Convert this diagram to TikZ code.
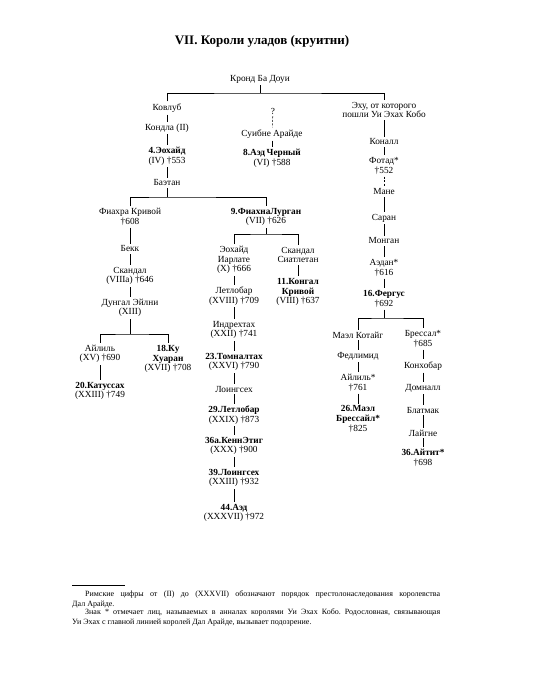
\documentclass[tikz,border=0pt]{standalone}
\usepackage{fontspec}
\setmainfont{Liberation Serif}
\usetikzlibrary{positioning}

\begin{document}
\begin{tikzpicture}[
  x=1pt, y=-1pt,
  font=\fontsize{9.3}{9.6}\selectfont,
  person/.style={align=center, inner sep=2pt},
  link/.style={line width=0.55pt},
  doubt/.style={link, dash pattern=on 2pt off 1.5pt},
  note/.style={anchor=north west, inner sep=0pt, text width=368pt, align=justify,
    font=\fontsize{8}{10}\selectfont\frenchspacing}
]
\path[use as bounding box] (0,0) rectangle (533,700);

\node[font=\fontsize{13}{15}\selectfont\bfseries] (title) at (262,41) {VII. Короли уладов (круитни)};

\node[person] (kronds) at (260,79) {Кронд Ба Доуи};
\coordinate (jtop) at (260,93);

% left line
\node[person] (kovlub)   at (167,108) {Ковлуб};
\node[person] (kondla)   at (167,128) {Кондла (II)};
\node[person] (eochaid4) at (167,156) {\textbf{4.Эохайд}\\(IV) †553};
\node[person] (baetan)   at (167,183) {Баэтан};
\coordinate (j1) at (167,197);

\node[person] (fiachra)  at (130,217) {Фиахра Кривой\\†608};
\node[person] (bekk)     at (130,249) {Бекк};
\node[person] (skandal)  at (130,276) {Скандал\\(VIIIa) †646};
\node[person] (dungal)   at (130,308) {Дунгал Эйлни\\(XIII)};
\coordinate (j2) at (130,334);
\node[person] (ailill)   at (100,354) {Айлиль\\(XV) †690};
\node[person] (ku18)     at (168,359) {\textbf{18.Ку}\\\textbf{Хуаран}\\(XVII) †708};
\node[person] (katussah) at (100,391) {\textbf{20.Катуссах}\\(XXIII) †749};

\node[person] (fiachna9) at (266,217) {\textbf{9.ФиахнаЛурган}\\(VII) †626};
\coordinate (j3) at (266,234);
\node[person] (eochaidI) at (234,260) {Эохайд\\Иарлате\\(X) †666};
\node[person] (skandalS) at (298,255) {Скандал\\Сиатлетан};
\node[person] (kongal11) at (298,292) {\textbf{11.Конгал}\\\textbf{Кривой}\\(VIII) †637};
\node[person] (letlobar) at (234,296) {Летлобар\\(XVIII) †709};
\node[person] (indreht)  at (234,330) {Индрехтах\\(XXII) †741};
\node[person] (tomn23)   at (234,362) {\textbf{23.Томналтах}\\(XXVI) †790};
\node[person] (loingseh) at (234,389) {Лоингсех};
\node[person] (letl29)   at (234,415) {\textbf{29.Летлобар}\\(XXIX) †873};
\node[person] (kenn36)   at (234,446) {\textbf{36а.КеннЭтиг}\\(XXX) †900};
\node[person] (loing39)  at (234,478) {\textbf{39.Лоингсех}\\(XXIII) †932};
\node[person] (aed44)    at (234,513) {\textbf{44.Аэд}\\(XXXVII) †972};

% middle line
\node[person] (q)      at (273,111) {?};
\node[person] (suibne) at (272,134) {Суибне Арайде};
\node[person] (aed8)   at (272,158) {\textbf{8.Аэд\,Черный}\\(VI) †588};

% Ui Echach Cobo
\node[person] (ehu)      at (384,110) {Эху, от которого\\пошли Уи Эхах Кобо};
\node[person] (konall)   at (384,142) {Коналл};
\node[person] (fotad)    at (384,166) {Фотад*\\†552};
\node[person] (mane)     at (384,192) {Мане};
\node[person] (saran)    at (384,218) {Саран};
\node[person] (mongan)   at (384,241) {Монган};
\node[person] (aedan)    at (384,268) {Аэдан*\\†616};
\node[person] (fergus16) at (384,299) {\textbf{16.Фергус}\\†692};
\coordinate (j4) at (384,318);
\node[person] (mael)     at (358,335) {Маэл Котайг};
\node[person] (fedlimid) at (358,356) {Федлимид};
\node[person] (ailill2)  at (358,383) {Айлиль*\\†761};
\node[person] (mael26)   at (358,419) {\textbf{26.Маэл}\\\textbf{Брессайл*}\\†825};
\node[person] (bressal)  at (423,339) {Брессал*\\†685};
\node[person] (konhobar) at (423,366) {Конхобар};
\node[person] (domnall)  at (423,388) {Домналл};
\node[person] (blatmak)  at (423,410) {Блатмак};
\node[person] (laigne)   at (423,433) {Лайгне};
\node[person] (aitit36)  at (423,458) {\textbf{36.Айтит*}\\†698};

\draw[link] (kronds) -- (jtop);
\draw[link] (kovlub) |- (jtop) -| (ehu);
\draw[link] (kovlub) -- (kondla) -- (eochaid4) -- (baetan) -- (j1);
\draw[link] (fiachra) |- (j1) -| (fiachna9);
\draw[link] (fiachra) -- (bekk) -- (skandal) -- (dungal) -- (j2);
\draw[link] (ailill) |- (j2) -| (ku18);
\draw[link] (ailill) -- (katussah);
\draw[link] (fiachna9) -- (j3);
\draw[link] (eochaidI) |- (j3) -| (skandalS);
\draw[link] (skandalS) -- (kongal11);
\draw[link] (eochaidI) -- (letlobar) -- (indreht) -- (tomn23) -- (loingseh)
  -- (letl29) -- (kenn36) -- (loing39) -- (aed44);
\draw[doubt] (q) -- (suibne);
\draw[link] (suibne) -- (aed8);
\draw[link] (ehu) -- (konall) -- (fotad);
\draw[doubt] (fotad) -- (mane);
\draw[link] (mane) -- (saran) -- (mongan) -- (aedan) -- (fergus16) -- (j4);
\draw[link] (mael) |- (j4) -| (bressal);
\draw[link] (mael) -- (fedlimid) -- (ailill2) -- (mael26);
\draw[link] (bressal) -- (konhobar) -- (domnall) -- (blatmak) -- (laigne) -- (aitit36);

% footnote
\coordinate (rulel) at (72,585);
\coordinate (ruler) at (125,585);
\draw[line width=0.4pt] (rulel) -- (ruler);
\node[note] (note1) at (72,591) {\hspace*{13pt}Римские цифры от (II) до (XXXVII) обозначают порядок престолонаследования королевства\linebreak Дал Арайде.};
\node[note, below=0pt of note1.south west, anchor=north west] (note2) {\hspace*{13pt}Знак * отмечает лиц, называемых в анналах королями Уи Эхах Кобо. Родословная, связывающая\linebreak Уи Эхах с главной линией королей Дал Арайде, вызывает подозрение.};
\end{tikzpicture}
\end{document}
